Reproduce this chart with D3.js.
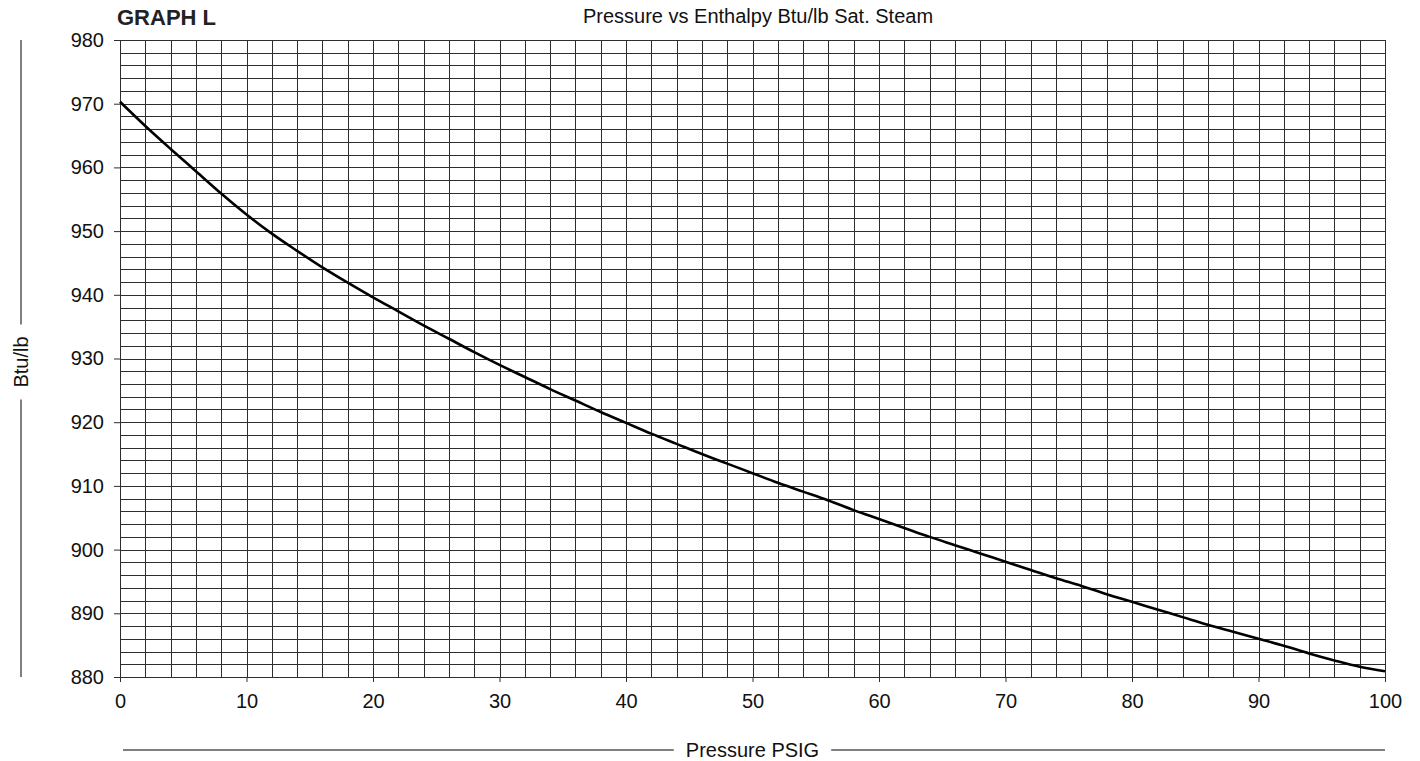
<!DOCTYPE html>
<html>
<head>
<meta charset="utf-8">
<script src="https://cdn.jsdelivr.net/npm/d3@7"></script>
<style>
  html, body { margin: 0; padding: 0; background: #fff; }
  svg { display: block; font-family: "Liberation Sans", Arial, Helvetica, sans-serif; }
</style>
</head>
<body>
<svg id="chart" width="1420" height="761"></svg>
<script>
// ---- Data ----
const pressure = [0, 2, 4, 6, 8, 10, 12, 14, 16, 18, 20, 22, 24, 26, 28, 30, 32, 34, 36, 38, 40,
  42, 44, 46, 48, 50, 52, 54, 56, 58, 60, 62, 64, 66, 68, 70, 72, 74, 76, 78, 80,
  82, 84, 86, 88, 90, 92, 94, 96, 98, 100];
const enthalpy = [970.3, 966.5, 962.9, 959.4, 955.9, 952.6, 949.6, 946.9, 944.3, 941.9, 939.6,
  937.4, 935.2, 933.1, 931.0, 929.0, 927.1, 925.2, 923.4, 921.6, 919.9,
  918.2, 916.6, 915.0, 913.5, 912.0, 910.5, 909.1, 907.7, 906.2, 904.8,
  903.4, 902.0, 900.7, 899.4, 898.1, 896.8, 895.5, 894.3, 893.0, 891.8,
  890.6, 889.4, 888.2, 887.1, 886.0, 884.9, 883.7, 882.6, 881.6, 880.9];
const xTicks = [0, 10, 20, 30, 40, 50, 60, 70, 80, 90, 100];
const yTicks = [880, 890, 900, 910, 920, 930, 940, 950, 960, 970, 980];
const xDomain = [0, 100];
const yDomain = [880, 980];
const gridStep = 2;
const titleText = "GRAPH L";
const subtitleText = "Pressure vs Enthalpy Btu/lb Sat. Steam";
const xTitle = "Pressure PSIG";
const yTitle = "Btu/lb";

// ---- Layout ----
const L = 120, R = 1385, T = 40, B = 677;
const svg = d3.select("#chart");
const x = d3.scaleLinear().domain(xDomain).range([L, R]);
const y = d3.scaleLinear().domain(yDomain).range([B, T]);

// grid
const gx = d3.range(xDomain[0], xDomain[1] + 0.001, gridStep);
const gy = d3.range(yDomain[0], yDomain[1] + 0.001, gridStep);
const grid = svg.append("g").attr("stroke", "#2e2e2e").attr("stroke-width", 1).attr("shape-rendering", "crispEdges");
grid.selectAll("line.v").data(gx).join("line").attr("class", "v")
  .attr("x1", d => Math.round(x(d)) + 0.5).attr("x2", d => Math.round(x(d)) + 0.5)
  .attr("y1", T).attr("y2", B);
grid.selectAll("line.h").data(gy).join("line").attr("class", "h")
  .attr("y1", d => Math.round(y(d)) + 0.5).attr("y2", d => Math.round(y(d)) + 0.5)
  .attr("x1", L).attr("x2", R);

// axes
const yAxis = d3.axisLeft(y).tickValues(yTicks).tickSize(6).tickPadding(10);
const yg = svg.append("g").attr("transform", `translate(${L},0)`).call(yAxis);
yg.select(".domain").remove();
yg.selectAll("line").attr("stroke", "#2e2e2e");
yg.selectAll("text").attr("font-size", 20).attr("fill", "#111")
  .attr("font-family", '"Liberation Sans", Arial, sans-serif');

const xAxis = d3.axisBottom(x).tickValues(xTicks).tickSize(5).tickPadding(12);
const xg = svg.append("g").attr("transform", `translate(0,${B})`).call(xAxis);
xg.select(".domain").remove();
xg.selectAll("line").attr("stroke", "#2e2e2e");
xg.selectAll("text").attr("font-size", 20).attr("fill", "#111")
  .attr("font-family", '"Liberation Sans", Arial, sans-serif');

// curve
const line = d3.line().x((d, i) => x(pressure[i])).y(d => y(d)).curve(d3.curveMonotoneX);
svg.append("path").datum(enthalpy).attr("d", line)
  .attr("fill", "none").attr("stroke", "#000").attr("stroke-width", 2.6)
  .attr("stroke-linejoin", "round");

// titles
svg.append("text").attr("x", 117).attr("y", 25).attr("font-size", 22).attr("font-weight", "bold")
  .attr("fill", "#222").text(titleText);
svg.append("text").attr("x", 758).attr("y", 23).attr("text-anchor", "middle").attr("font-size", 20)
  .attr("fill", "#111").text(subtitleText);

// x title with rules
const xtY = 750;
const xt = svg.append("text").attr("x", (L + R) / 2).attr("y", xtY + 7).attr("text-anchor", "middle")
  .attr("font-size", 20).attr("fill", "#111").text(xTitle);
const xw = xt.node().getComputedTextLength();
svg.append("line").attr("x1", 123).attr("x2", (L + R) / 2 - xw / 2 - 12).attr("y1", xtY).attr("y2", xtY)
  .attr("stroke", "#555").attr("stroke-width", 1.5);
svg.append("line").attr("x1", (L + R) / 2 + xw / 2 + 12).attr("x2", R).attr("y1", xtY).attr("y2", xtY)
  .attr("stroke", "#555").attr("stroke-width", 1.5);

// y title with rules
const ytX = 21, ytC = 362;
const yt = svg.append("text").attr("transform", `translate(${ytX + 7},${ytC}) rotate(-90)`)
  .attr("text-anchor", "middle").attr("font-size", 20).attr("fill", "#111").text(yTitle);
const yw = yt.node().getComputedTextLength();
svg.append("line").attr("x1", ytX).attr("x2", ytX).attr("y1", T).attr("y2", ytC - yw / 2 - 12)
  .attr("stroke", "#555").attr("stroke-width", 1.5);
svg.append("line").attr("x1", ytX).attr("x2", ytX).attr("y1", ytC + yw / 2 + 12).attr("y2", B)
  .attr("stroke", "#555").attr("stroke-width", 1.5);
</script>
</body>
</html>
